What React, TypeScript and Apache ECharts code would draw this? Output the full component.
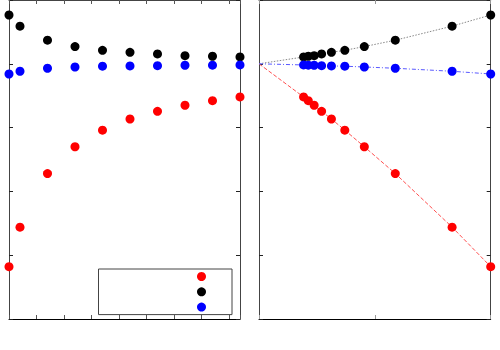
import React, { useEffect, useRef } from 'react';
import * as echarts from 'echarts';

// Left panel x values (N) and right panel x values (1/N)
const nValues = [2, 2.4, 3.4, 4.4, 5.4, 6.4, 7.4, 8.4, 9.4, 10.4];
const invN = [0.5, 0.4167, 0.2941, 0.2273, 0.1852, 0.1563, 0.1351, 0.119, 0.1064, 0.0962];

// Series values
const redValues = [-3.18, -2.56, -1.72, -1.3, -1.04, -0.865, -0.745, -0.65, -0.578, -0.52];
const blackValues = [0.765, 0.59, 0.37, 0.27, 0.212, 0.18, 0.154, 0.128, 0.118, 0.107];
const blueValues = [-0.16, -0.117, -0.07, -0.05, -0.038, -0.033, -0.029, -0.023, -0.022, -0.018];

// Extrapolated limits (1/N -> 0)
const redLimit = 0;
const blackLimit = 0;
const blueLimit = 0;

const seriesNames = ['red', 'black', 'blue'];
const seriesColors = ['#ff0000', '#000000', '#0000ff'];

const frame = '#444';

function baseX(gridIndex: number, position: 'bottom' | 'top', min: number, max: number, interval: number, tickColor: string, lineColor: string) {
  return {
    type: 'value',
    gridIndex,
    position,
    min,
    max,
    interval,
    axisLine: { show: true, onZero: false, lineStyle: { color: lineColor, width: 1 } },
    axisTick: { show: true, inside: true, length: 4, lineStyle: { color: tickColor, width: 1 } },
    axisLabel: { show: false },
    splitLine: { show: false },
  };
}

function baseY(gridIndex: number, position: 'left' | 'right') {
  return {
    type: 'value',
    gridIndex,
    position,
    min: -4,
    max: 1,
    interval: 1,
    axisLine: { show: true, onZero: false, lineStyle: { color: frame, width: 1 } },
    axisTick: { show: true, inside: true, length: 4, lineStyle: { color: '#222', width: 1 } },
    axisLabel: { show: false },
    splitLine: { show: false },
  };
}

export default function App() {
  const ref = useRef<HTMLDivElement>(null);
  useEffect(() => {
    const chart = echarts.init(ref.current!, null, { renderer: 'svg' });
    const valueSets = [redValues, blackValues, blueValues];
    const limits = [redLimit, blackLimit, blueLimit];
    const lineTypes: any[] = ['dashed', [1.5, 1.5], [4, 2, 1, 2]];
    const lineColors = ['#ff5050', '#888888', '#5a5aff'];

    const series: any[] = [];
    valueSets.forEach((vals, s) => {
      series.push({
        name: seriesNames[s],
        type: 'scatter',
        xAxisIndex: 0,
        yAxisIndex: 0,
        symbol: 'circle',
        symbolSize: 9,
        itemStyle: { color: seriesColors[s], opacity: 1 },
        data: nValues.map((n, i) => [n, vals[i]]),
      });
    });
    valueSets.forEach((vals, s) => {
      const pts = invN.map((x, i) => [x, vals[i]]);
      series.push({
        name: seriesNames[s] + ' fit',
        type: 'line',
        xAxisIndex: 2,
        yAxisIndex: 2,
        symbol: 'none',
        showSymbol: false,
        lineStyle: { color: lineColors[s], width: 1, type: lineTypes[s] },
        data: [[0, limits[s]], ...pts.slice().reverse()],
        z: 1,
      });
      series.push({
        name: seriesNames[s] + ' 1/N',
        type: 'scatter',
        xAxisIndex: 2,
        yAxisIndex: 2,
        symbol: 'circle',
        symbolSize: 9,
        itemStyle: { color: seriesColors[s], opacity: 1 },
        data: pts,
        z: 3,
      });
    });

    chart.setOption({
      animation: false,
      backgroundColor: '#ffffff',
      grid: [
        { left: 9, right: 260, top: 0, bottom: 31 },
        { left: 259, right: 9.3, top: 0, bottom: 31 },
      ],
      xAxis: [
        baseX(0, 'bottom', 2, 10.4, 1, '#555', '#000'),
        baseX(0, 'top', 2, 10.4, 1, '#555', frame),
        baseX(1, 'bottom', 0, 0.5, 0.25, '#999', '#000'),
        baseX(1, 'top', 0, 0.5, 0.25, '#999', frame),
      ],
      yAxis: [baseY(0, 'left'), baseY(0, 'right'), baseY(1, 'left'), baseY(1, 'right')],
      legend: {
        data: seriesNames,
        orient: 'vertical',
        left: 98.5,
        top: 269,
        icon: 'circle',
        itemWidth: 9,
        itemHeight: 9,
        itemGap: 6.3,
        padding: [3, 26, 3, 98.5],
        borderColor: '#444',
        borderWidth: 1,
        formatter: () => '',
        textStyle: { fontSize: 6 },
        itemStyle: { opacity: 1 },
        selectedMode: false,
      },
      series,
    });
    return () => chart.dispose();
  }, []);
  return <div ref={ref} style={{ position: 'fixed', left: 0, top: 0, width: 500, height: 350 }} />;
}
